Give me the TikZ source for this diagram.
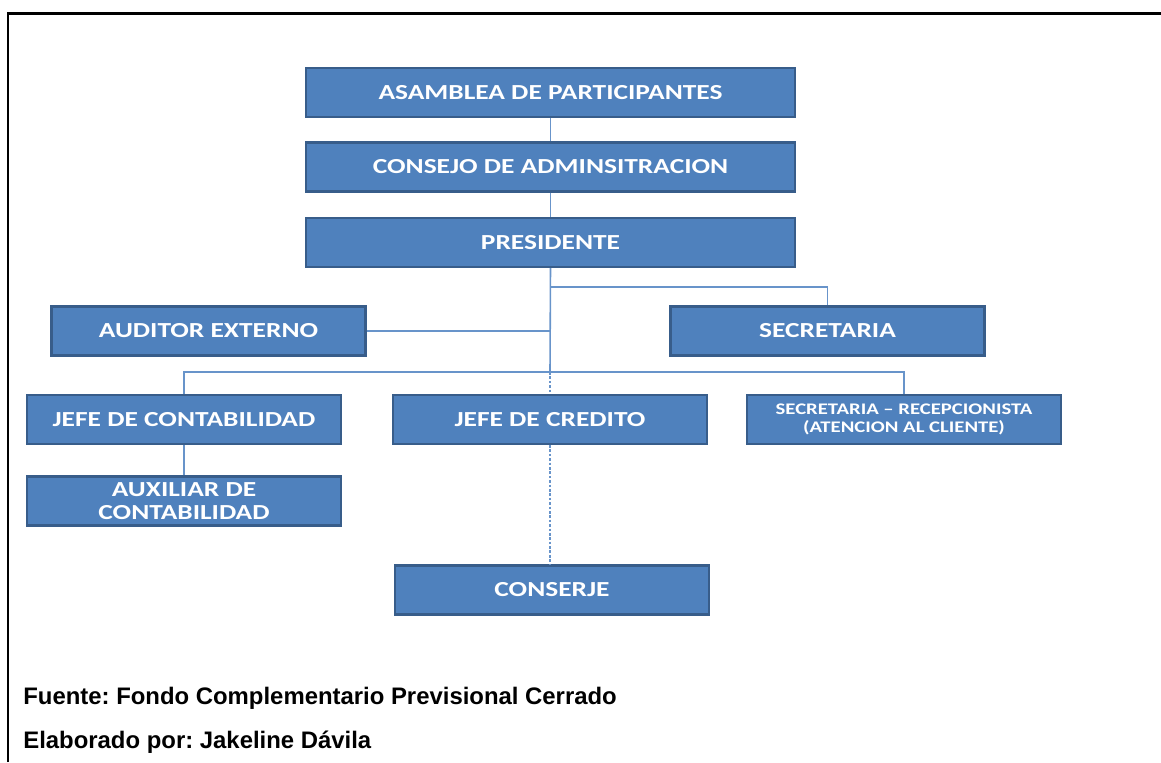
\documentclass[tikz,border=0pt]{standalone}
\usepackage{fontspec}
\setmainfont{Liberation Sans}
\newfontfamily\boxfont[FakeStretch=1.28]{Carlito}
\usetikzlibrary{positioning, calc}
\definecolor{boxblue}{RGB}{79,129,189}
\definecolor{boxedge}{RGB}{56,93,138}
\definecolor{linkblue}{RGB}{104,148,202}
\frenchspacing
\tikzset{
  orgbox/.style={rectangle,fill=boxblue,draw=boxedge,line width=1.2pt,
    minimum width=9.78cm,minimum height=0.98cm,align=center,inner sep=1pt,
    text=white,font=\boxfont\bfseries\fontsize{12.2}{13}\selectfont},
  unitbox/.style={orgbox,minimum width=6.28cm},
  smallbox/.style={unitbox,font=\boxfont\bfseries\fontsize{9.2}{10.5}\selectfont},
  link/.style={draw=linkblue,line width=0.9pt},
  dotlink/.style={link,dash pattern=on 1.5pt off 1pt},
  foot/.style={anchor=base west,inner sep=0pt,font=\bfseries\fontsize{13.6}{15}\selectfont}
}

\begin{document}
\begin{tikzpicture}[x=0.02cm,y=-0.02cm]
  \useasboundingbox (0,0) rectangle (1161,762);

  % Page frame
  \draw[line width=0.06cm] (8,762) -- (8,13) -- (1161,13);

  % Top of the chart
  \node[orgbox] (asamblea) at (550.5,92.5) {ASAMBLEA DE PARTICIPANTES};
  \node[orgbox] (consejo) at (550.5,167) {CONSEJO DE ADMINSITRACION};
  \node[orgbox] (presidente) at (550.5,242.5) {PRESIDENTE};

  % Staff units
  \node[unitbox] (auditor) at (208.5,331) {AUDITOR EXTERNO};
  \node[unitbox] (secretaria) at (827.5,331) {SECRETARIA};

  % Heads
  \node[unitbox] (contab) at (184,419.5) {JEFE DE CONTABILIDAD};
  \node[unitbox] (credito) at (550,419.5) {JEFE DE CREDITO};
  \node[smallbox] (recepcion) at (904,419.5) {SECRETARIA – RECEPCIONISTA\\(ATENCION AL CLIENTE)};
  \node[unitbox] (auxiliar) at (184,501) {AUXILIAR DE\\CONTABILIDAD};
  \node[unitbox] (conserje) at (552,590) {CONSERJE};

  % Connectors
  \coordinate (split) at (550,287);
  \coordinate (bus) at (550,372);
  \draw[link] (asamblea.south) -- (consejo.north);
  \draw[link] (consejo.south) -- (presidente.north);
  \draw[link] (presidente.south) -- (bus);
  \draw[link] (split) -| (secretaria.north);
  \draw[link] (auditor.east) -- (auditor.east -| bus);
  \draw[link] (contab.north) |- (bus) -| (recepcion.north);
  \draw[dotlink] (bus) -- (credito.north);
  \draw[link] (contab.south) -- (auxiliar.north);
  \draw[dotlink] (credito.south) -- (credito.south |- conserje.north);

  % Source notes
  \node[foot] (fuente) at (23,704) {Fuente: Fondo Complementario Previsional Cerrado};
  \node[foot] (autor) at (23,748) {Elaborado por: Jakeline Dávila};

\end{tikzpicture}
\end{document}
